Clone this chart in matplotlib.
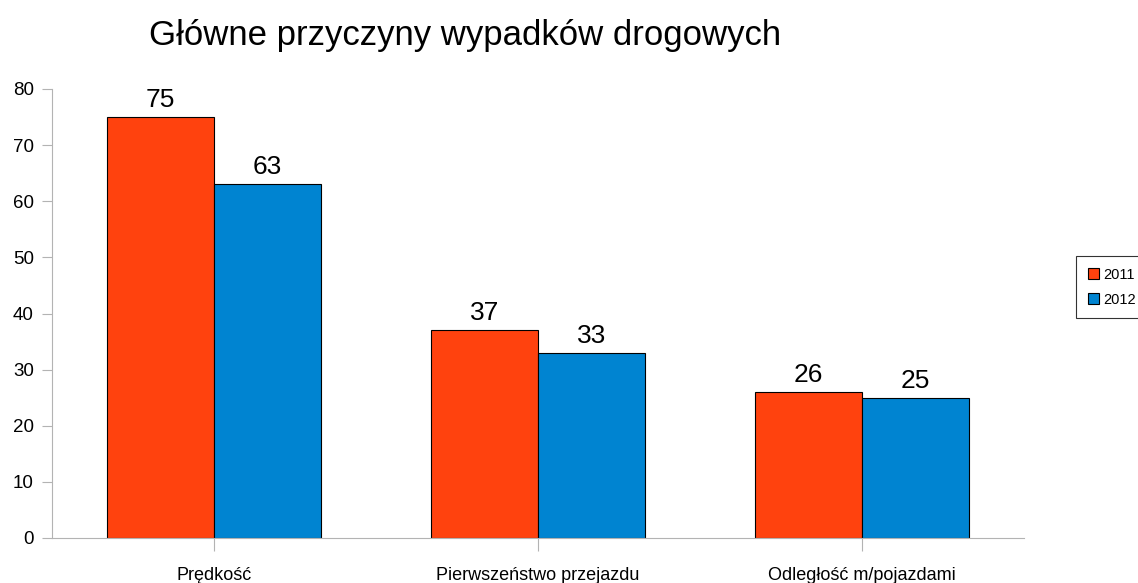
import numpy as np
import matplotlib.pyplot as plt
from matplotlib import font_manager

categories = ['Prędkość', 'Pierwszeństwo przejazdu', 'Odległość m/pojazdami']
series     = ['2011', '2012']
vals_2011  = [75, 37, 26]
vals_2012  = [63, 33, 25]
colors     = {'2011': '#ff420e', '2012': '#0084d1'}

names = {f.name for f in font_manager.fontManager.ttflist}
title_font = 'Liberation Sans Narrow' if 'Liberation Sans Narrow' in names else 'Liberation Sans'
plt.rcParams['font.family'] = ['Liberation Sans', 'DejaVu Sans']

fig = plt.figure(figsize=(11.38, 5.83), dpi=100)
ax  = fig.add_axes([52/1138, 45/583, 972/1138, 449/583])

x = np.arange(len(categories))
w = 0.33
for off, name, vals in [(-w/2, '2011', vals_2011), (w/2, '2012', vals_2012)]:
  bars = ax.bar(x + off, vals, w, color=colors[name], edgecolor='black',
                linewidth=0.8, label=name, zorder=2)
  for b, v in zip(bars, vals):
    ax.text(b.get_x() + b.get_width()/2, v + 0.9, f'{v}', ha='center',
            va='bottom', fontsize=19)

ax.set_xlim(-0.5, 2.5)
ax.set_ylim(0, 80)
ax.set_yticks(range(0, 81, 10))
ax.set_xticks(x)
ax.set_xticklabels(categories, fontsize=13)
ax.tick_params(axis='y', labelsize=13.5, length=7, color='#b3b3b3', pad=6)
ax.tick_params(axis='x', length=9, color='#b3b3b3', pad=12)
for s in ['top', 'right']:
  ax.spines[s].set_visible(False)
for s in ['left', 'bottom']:
  ax.spines[s].set_color('#b3b3b3')

fig.text(465/1138, 1 - 35/583, 'Główne przyczyny wypadków drogowych',
         ha='center', va='center', fontsize=25, family=title_font)

leg = fig.legend(loc='upper left', bbox_to_anchor=(1076/1138, 1 - 256/583),
                 frameon=True, fancybox=False, fontsize=10.5, handlelength=0.8,
                 handleheight=0.8, handletextpad=0.3, borderpad=0.8,
                 labelspacing=0.75, borderaxespad=0)
leg.get_frame().set_edgecolor('black')
leg.get_frame().set_linewidth(0.8)

plt.savefig('out.png', dpi=100)
